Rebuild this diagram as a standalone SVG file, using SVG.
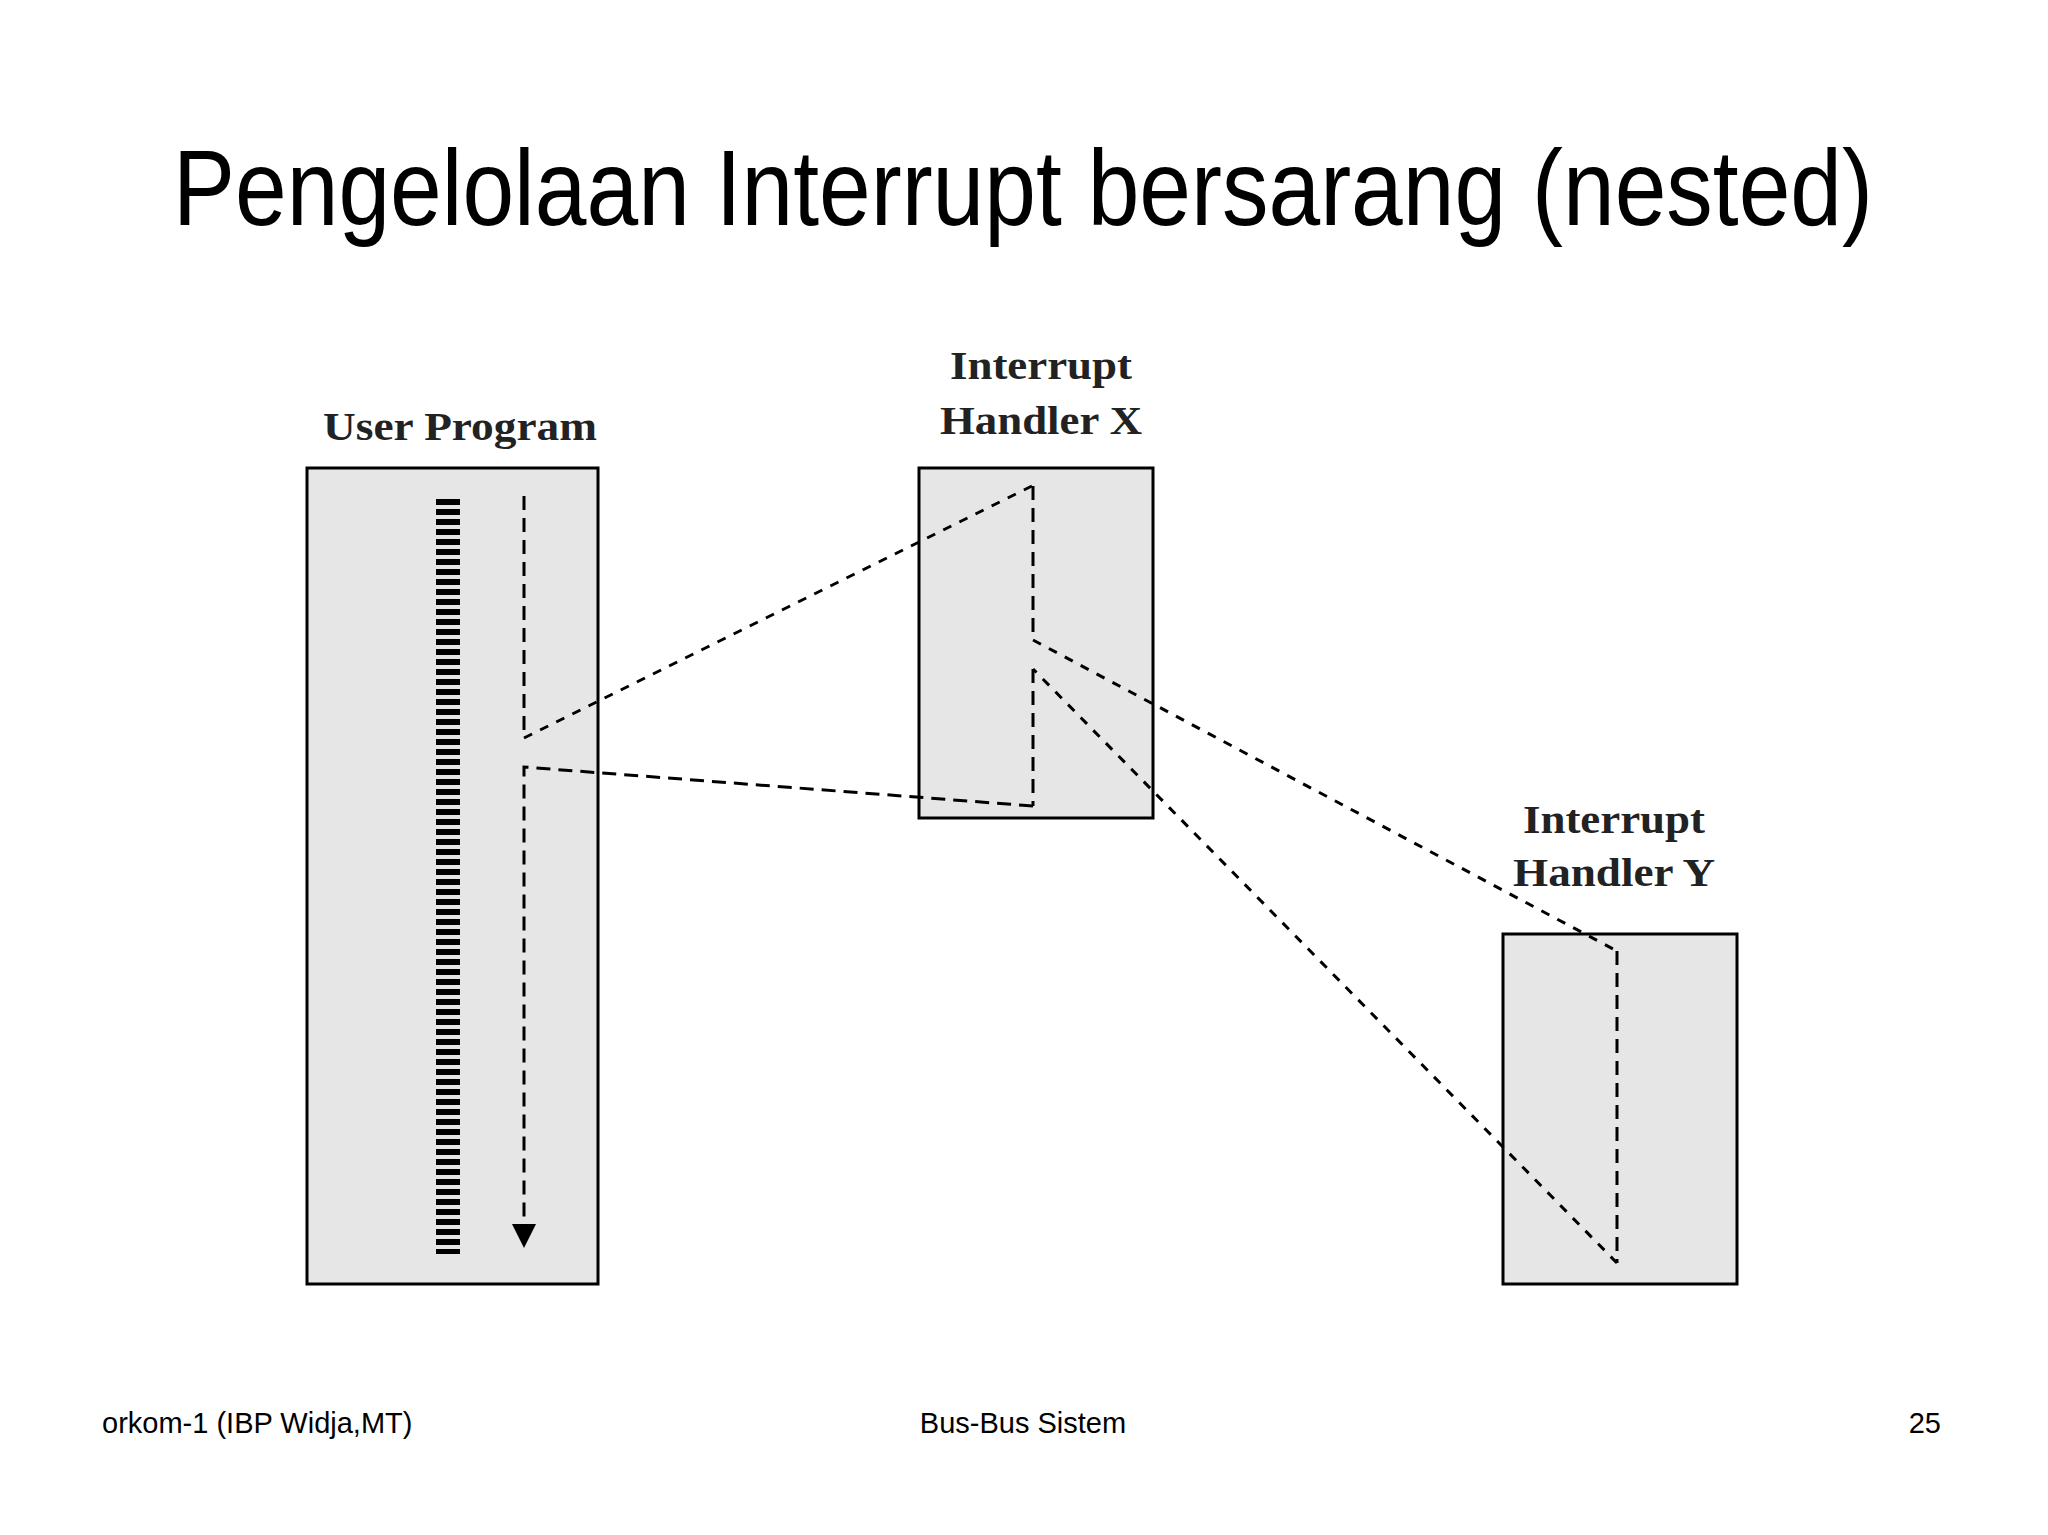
<svg xmlns="http://www.w3.org/2000/svg" width="2048" height="1535" viewBox="0 0 2048 1535">
<style>
.box{fill:#e6e6e6;stroke:#000;stroke-width:3}
.lbl{font-family:"Liberation Serif",serif;font-weight:bold;font-size:40px;text-anchor:middle;fill:#222}
.d{fill:none;stroke:#000;stroke-width:3;stroke-dasharray:14,8}
.d2{fill:none;stroke:#000;stroke-width:3;stroke-dasharray:9,9}
.ft{font-family:"Liberation Sans",sans-serif;font-size:29px;fill:#000}
</style>
<rect width="2048" height="1535" fill="#fff"/>
<text x="1023" y="225" font-family="Liberation Sans,sans-serif" font-size="108" text-anchor="middle" textLength="1700" lengthAdjust="spacingAndGlyphs">Pengelolaan Interrupt bersarang (nested)</text>
<g id="user-program">
<rect class="box" x="307" y="468" width="291" height="816"/>
<line x1="448" y1="499" x2="448" y2="1254" stroke="#000" stroke-width="24" stroke-dasharray="6,4"/>
<text class="lbl" x="460" y="440" textLength="274" lengthAdjust="spacingAndGlyphs">User Program</text>
</g>
<g id="handler-x">
<rect class="box" x="919" y="468" width="234" height="350"/>
<text class="lbl" x="1041" y="379" textLength="182" lengthAdjust="spacingAndGlyphs">Interrupt</text>
<text class="lbl" x="1041" y="434" textLength="202" lengthAdjust="spacingAndGlyphs">Handler X</text>
</g>
<g id="handler-y">
<rect class="box" x="1503" y="934" width="234" height="350"/>
<text class="lbl" x="1614" y="833" textLength="182" lengthAdjust="spacingAndGlyphs">Interrupt</text>
<text class="lbl" x="1614" y="886" textLength="202" lengthAdjust="spacingAndGlyphs">Handler Y</text>
</g>
<g id="connectors">
<line class="d" x1="524" y1="496" x2="524" y2="738"/>
<line class="d2" x1="524" y1="738" x2="1032" y2="486"/>
<line class="d" x1="1033" y1="486" x2="1033" y2="640"/>
<line class="d2" x1="1033" y1="640" x2="1617" y2="951"/>
<line class="d" x1="1617" y1="951" x2="1617" y2="1263"/>
<line class="d2" x1="1617" y1="1263" x2="1033" y2="669"/>
<line class="d" x1="1033" y1="669" x2="1033" y2="806"/>
<polyline class="d" points="1033,806 524,767 524,1230"/>
<path d="M512,1224L536,1224L524,1248z"/>
</g>
<text class="ft" x="102" y="1433">orkom-1 (IBP Widja,MT)</text>
<text class="ft" x="1023" y="1433" text-anchor="middle">Bus-Bus Sistem</text>
<text class="ft" x="1941" y="1433" text-anchor="end">25</text>
</svg>
